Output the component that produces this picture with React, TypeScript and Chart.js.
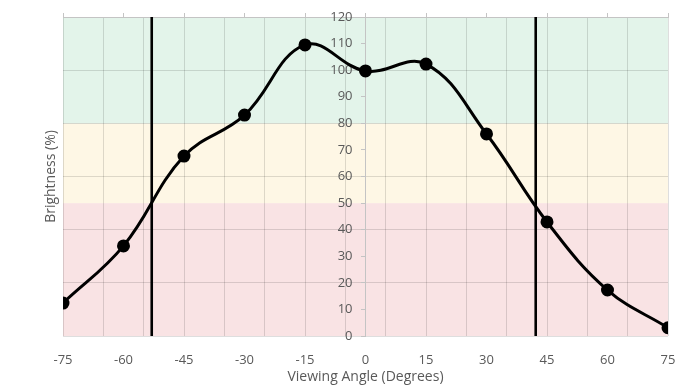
import React, { useEffect, useRef } from 'react';
import { Chart, registerables } from 'chart.js';

Chart.register(...registerables);

// ---- data ----
const angles = [-75, -60, -45, -30, -15, 0, 15, 30, 45, 60, 75];
const brightness = [12.4, 33.9, 67.7, 83.1, 109.5, 99.7, 102.3, 76.0, 42.9, 17.3, 3.1];
const cutoffAngles = [-53.0, 42.2];
const bandLimits = [0, 50, 80, 120];
const xRange = [-75, 75];
const yRange = [0, 120];
const xLabelStep = 15;
const xGridStep = 10;
const yLabelStep = 10;
const yGridStep = 20;

// ---- styles ----
const bandColors = ['#f9e3e4', '#fef7e5', '#e3f4ea'];
const gridColor = 'rgba(0,0,0,0.13)';
const axisColor = '#c4c4c4';
const textColor = '#595959';
const fontFamily = '"Open Sans", "Noto Sans", sans-serif';

const bandsPlugin = {
  id: 'bands',
  beforeDraw(chart: any) {
    const { ctx, chartArea, scales } = chart;
    const y = scales.y;
    ctx.save();
    for (let i = 0; i < bandColors.length; i++) {
      const top = y.getPixelForValue(bandLimits[i + 1]);
      const bottom = y.getPixelForValue(bandLimits[i]);
      ctx.fillStyle = bandColors[i];
      ctx.fillRect(chartArea.left, top, chartArea.right - chartArea.left, bottom - top);
    }
    ctx.restore();
  },
};

export default function App() {
  const ref = useRef<HTMLCanvasElement | null>(null);

  useEffect(() => {
    if (!ref.current) return;
    const curve = angles.map((a, i) => ({ x: a, y: brightness[i] }));
    const cutoffSets = cutoffAngles.map((a) => ({
      data: [
        { x: a, y: yRange[0] },
        { x: a, y: yRange[1] },
      ],
      borderColor: '#000',
      borderWidth: 2.6,
      pointRadius: 0,
      tension: 0,
      order: 2,
    }));
    const chart = new Chart(ref.current, {
      type: 'line',
      data: {
        datasets: [
          ...cutoffSets,
          {
            data: curve,
            borderColor: '#000',
            borderWidth: 3,
            pointRadius: 5,
            pointBackgroundColor: '#000',
            pointBorderColor: '#000',
            tension: 0.4,
            order: 1,
          },
        ] as any,
      },
      options: {
        animation: false,
        responsive: false,
        layout: { padding: { left: 0, right: 27, top: 0, bottom: 0 } },
        plugins: { legend: { display: false }, tooltip: { enabled: false } },
        scales: {
          x: {
            type: 'linear',
            position: 'bottom',
            min: xRange[0],
            max: xRange[1],
            ticks: {
              stepSize: 5,
              autoSkip: false,
              maxRotation: 0,
              padding: 16,
              color: textColor,
              font: { family: fontFamily, size: 13 },
              callback: (v: any) => (Number(v) % xLabelStep === 0 ? String(v) : ''),
            },
            grid: {
              drawTicks: false,
              color: (c: any) =>
                c.tick && (c.tick.value - xRange[0]) % xGridStep === 0 ? gridColor : 'transparent',
            },
            border: { display: false },
            title: {
              display: true,
              text: 'Viewing Angle (Degrees)',
              color: textColor,
              font: { family: fontFamily, size: 14 },
              padding: { top: 0, bottom: 5 },
            },
            afterFit: (s: any) => {
              s.height = 54;
            },
          },
          x2: {
            type: 'linear',
            position: 'top',
            min: xRange[0],
            max: xRange[1],
            ticks: { display: false, stepSize: xLabelStep },
            grid: { drawOnChartArea: false, drawTicks: true, tickLength: 4, color: axisColor },
            border: { display: true, color: axisColor },
            afterFit: (s: any) => {
              s.height = 17;
            },
          },
          yTitle: {
            type: 'linear',
            position: 'left',
            min: yRange[0],
            max: yRange[1],
            ticks: { display: false },
            grid: { display: false, drawTicks: false },
            border: { display: false },
            title: {
              display: true,
              text: 'Brightness (%)',
              color: textColor,
              font: { family: fontFamily, size: 14 },
              padding: { top: 43, bottom: 0 },
            },
            afterFit: (s: any) => {
              s.width = 63;
            },
          },
          y: {
            type: 'linear',
            position: { x: 0 } as any,
            min: yRange[0],
            max: yRange[1],
            ticks: {
              stepSize: yLabelStep,
              color: textColor,
              font: { family: fontFamily, size: 13 },
              callback: (v: any) => String(v) + '\u2002\u2002',
            },
            grid: {
              color: (c: any) =>
                c.tick && c.tick.value % yGridStep === 0 ? gridColor : 'transparent',
              tickColor: axisColor,
              tickLength: 4,
            },
            border: { display: true, color: axisColor },
          },
        } as any,
      },
      plugins: [bandsPlugin],
    });
    return () => chart.destroy();
  }, []);

  return (
    <div style={{ position: 'fixed', left: 0, top: 0, width: 695, height: 390, background: '#fff' }}>
      <canvas ref={ref} width={695} height={390} style={{ display: 'block' }} />
    </div>
  );
}
